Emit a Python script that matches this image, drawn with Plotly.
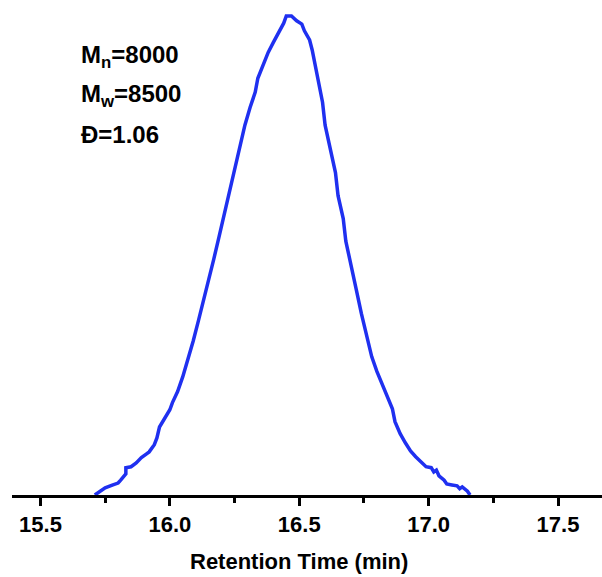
import plotly.graph_objects as go

# Retention time (min) and normalized detector signal
retention_time = [15.71, 15.73, 15.75, 15.78, 15.80, 15.81, 15.83, 15.83, 15.85, 15.87,
                  15.89, 15.91, 15.92, 15.94, 15.95, 15.96, 15.98, 16.00, 16.01, 16.03,
                  16.05, 16.07, 16.09, 16.11, 16.13, 16.15, 16.17, 16.19, 16.21, 16.23,
                  16.25, 16.27, 16.29, 16.31, 16.33, 16.34, 16.36, 16.38, 16.40, 16.42,
                  16.44, 16.45, 16.47, 16.49, 16.51, 16.52, 16.54, 16.55, 16.56, 16.57,
                  16.59, 16.60, 16.62, 16.64, 16.65, 16.67, 16.68, 16.70, 16.72, 16.74,
                  16.76, 16.78, 16.80, 16.82, 16.84, 16.86, 16.87, 16.89, 16.91, 16.93,
                  16.95, 16.97, 16.99, 17.01, 17.02, 17.03, 17.04, 17.06, 17.07, 17.09,
                  17.11, 17.12, 17.13, 17.15, 17.16]
signal = [0.000, 0.008, 0.015, 0.021, 0.025, 0.031, 0.044, 0.057, 0.059, 0.067,
          0.078, 0.086, 0.090, 0.105, 0.119, 0.142, 0.161, 0.178, 0.193, 0.216,
          0.247, 0.283, 0.321, 0.363, 0.405, 0.447, 0.493, 0.539, 0.587, 0.635,
          0.681, 0.730, 0.772, 0.809, 0.841, 0.870, 0.899, 0.924, 0.945, 0.966,
          0.985, 1.000, 1.000, 0.990, 0.983, 0.969, 0.950, 0.929, 0.902, 0.866,
          0.820, 0.772, 0.723, 0.673, 0.625, 0.577, 0.530, 0.484, 0.430, 0.379,
          0.331, 0.289, 0.258, 0.231, 0.203, 0.180, 0.153, 0.128, 0.109, 0.092,
          0.080, 0.069, 0.059, 0.057, 0.048, 0.052, 0.040, 0.031, 0.023, 0.021,
          0.019, 0.013, 0.017, 0.008, 0.000]

tick_values = [15.5, 16.0, 16.5, 17.0, 17.5]
tick_labels = ["15.5", "16.0", "16.5", "17.0", "17.5"]
annotation_lines = ["M<sub>n</sub>=8000", "M<sub>w</sub>=8500", "Đ=1.06"]
x_title = "Retention Time (min)"

FONT = "Liberation Sans, Arial, sans-serif"
TOP, BOTTOM = 10, 82
PLOT_H = 577 - TOP - BOTTOM

fig = go.Figure()
fig.add_trace(go.Scatter(
    x=retention_time, y=signal, mode="lines",
    line=dict(color="#1f30f0", width=3.5),
    showlegend=False, hoverinfo="skip",
))

for i, txt in enumerate(annotation_lines):
    fig.add_annotation(
        text="<b>" + txt + "</b>", xref="paper", yref="paper",
        x=(79 - 12) / 590, y=1 - (56 + 39 * i - TOP) / PLOT_H,
        xanchor="left", yanchor="middle", showarrow=False,
        font=dict(family=FONT, size=24, color="black"),
    )

# x-axis title, centred under the middle tick as in the reference
fig.add_annotation(
    text="<b>" + x_title + "</b>", xref="x", yref="paper",
    x=16.5, y=0, yshift=-66, xanchor="center", yanchor="middle",
    showarrow=False, font=dict(family=FONT, size=22, color="black"),
)

fig.update_layout(
    width=602, height=577,
    margin=dict(l=12, r=0, t=TOP, b=BOTTOM),
    paper_bgcolor="white", plot_bgcolor="white",
    xaxis=dict(
        range=[15.39, 17.67],
        tickvals=tick_values, ticktext=["<b>" + t + "</b>" for t in tick_labels],
        tickfont=dict(family=FONT, size=22, color="black"),
        ticks="outside", ticklen=8, tickwidth=2.5, tickcolor="black",
        minor=dict(dtick=0.25, tick0=15.25, ticks="outside", ticklen=5, tickwidth=2.5, tickcolor="black"),
        showline=True, linecolor="black", linewidth=3,
        showgrid=False, zeroline=False,
    ),
    yaxis=dict(
        range=[0, 1.0125], visible=False, showgrid=False, zeroline=False,
    ),
)

fig.write_html(
    "out.html",
    config={"displayModeBar": False},
    post_script="document.body.style.margin='0';document.body.style.overflow='hidden';",
)
